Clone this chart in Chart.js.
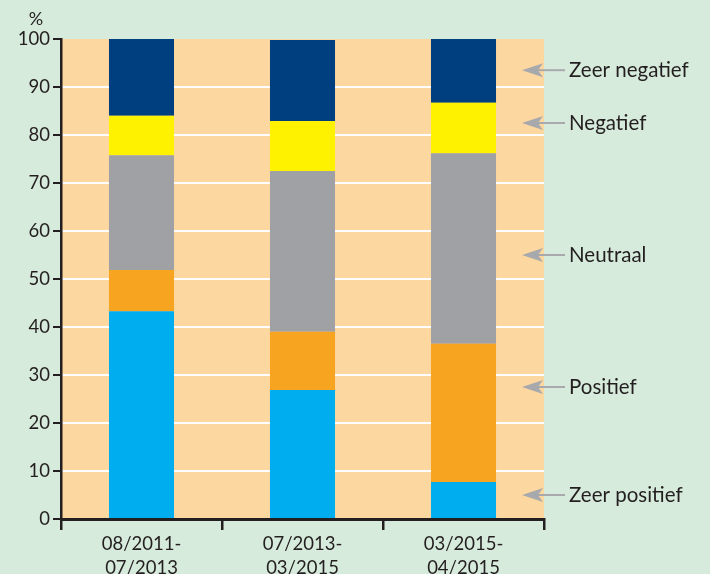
<!DOCTYPE html>
<html>
<head>
<meta charset="utf-8">
<script src="https://cdn.jsdelivr.net/npm/chart.js@4"></script>
<style>
  html, body { margin: 0; padding: 0; background: #d7ebdc; }
  #wrap { width: 710px; height: 574px; }
</style>
</head>
<body>
<div id="wrap"><canvas id="chart" width="710" height="574"></canvas></div>
<script>
// DATA
const periods = [["08/2011-", "07/2013"], ["07/2013-", "03/2015"], ["03/2015-", "04/2015"]];
const zeerPositief = [43.3, 26.9, 7.7];
const positief = [8.6, 12.1, 28.8];
const neutraal = [23.9, 33.5, 39.7];
const negatief = [8.2, 10.4, 10.5];
const zeerNegatief = [16.0, 16.9, 13.3];

// right side legend labels and the value they point at
const legendLabels = ["Zeer negatief", "Negatief", "Neutraal", "Positief", "Zeer positief"];
const legendValues = [93.5, 82.5, 55, 27.5, 5];

const ink = "#231f20";
const font = "Lato, 'Open Sans', sans-serif";

// plot background + "%" + arrow labels
const decor = {
  id: "decor",
  beforeDraw(chart) {
    const { ctx, chartArea: a } = chart;
    ctx.save();
    ctx.fillStyle = "#fdd7a0";
    ctx.fillRect(a.left, a.top, a.right - a.left, a.bottom - a.top);
    ctx.restore();
  },
  afterDraw(chart) {
    const { ctx, chartArea: a } = chart;
    const y = chart.scales.y;
    ctx.save();
    ctx.fillStyle = ink;
    ctx.font = "18px " + font;
    ctx.textAlign = "center";
    ctx.textBaseline = "middle";
    ctx.fillText("%", 36, 19);

    legendLabels.forEach((txt, i) => {
      const py = y.getPixelForValue(legendValues[i]);
      const tip = a.right - 22;
      ctx.strokeStyle = "#a7a9ac";
      ctx.fillStyle = "#a7a9ac";
      ctx.lineWidth = 2;
      ctx.beginPath();
      ctx.moveTo(tip + 16, py);
      ctx.lineTo(a.right + 21, py);
      ctx.stroke();
      ctx.beginPath();
      ctx.moveTo(tip, py);
      ctx.lineTo(tip + 21, py - 7);
      ctx.lineTo(tip + 16, py);
      ctx.lineTo(tip + 21, py + 7);
      ctx.closePath();
      ctx.fill();
      ctx.fillStyle = ink;
      ctx.textAlign = "left";
      ctx.font = "20.5px " + font;
      ctx.fillText(txt, a.right + 25, py);
    });
    ctx.restore();
  }
};

const barOpts = { barPercentage: 0.404, categoryPercentage: 1, borderWidth: 0 };

new Chart(document.getElementById("chart").getContext("2d"), {
  type: "bar",
  data: {
    labels: periods,
    datasets: [
      { label: "Zeer positief", data: zeerPositief, backgroundColor: "#00adef", ...barOpts },
      { label: "Positief", data: positief, backgroundColor: "#f7a520", ...barOpts },
      { label: "Neutraal", data: neutraal, backgroundColor: "#a0a1a5", ...barOpts },
      { label: "Negatief", data: negatief, backgroundColor: "#fff200", ...barOpts },
      { label: "Zeer negatief", data: zeerNegatief, backgroundColor: "#003f7f", ...barOpts }
    ]
  },
  options: {
    responsive: false,
    animation: false,
    layout: { padding: { top: 39, right: 166, left: 0, bottom: 0 } },
    plugins: { legend: { display: false }, tooltip: { enabled: false } },
    scales: {
      x: {
        stacked: true,
        afterFit: s => { s.height = 55; },
        border: { color: ink, width: 3 },
        grid: { drawOnChartArea: false, color: ink, tickColor: ink, tickLength: 11, lineWidth: 2.5 },
        ticks: { color: ink, font: { family: font, size: 18.5, lineHeight: 1.3 }, padding: 2, maxRotation: 0 }
      },
      y: {
        stacked: true,
        min: 0,
        max: 100,
        afterFit: s => { s.width = 61; },
        border: { color: ink, width: 2.5 },
        grid: {
          color: c => (c.tick && (c.tick.value === 100 || c.tick.value === 0)) ? "rgba(0,0,0,0)" : "#ffffff",
          lineWidth: 2,
          tickColor: ink,
          tickLength: 8
        },
        ticks: { stepSize: 10, color: ink, font: { family: font, size: 18.5 }, padding: 3 }
      }
    }
  },
  plugins: [decor]
});
</script>
</body>
</html>
